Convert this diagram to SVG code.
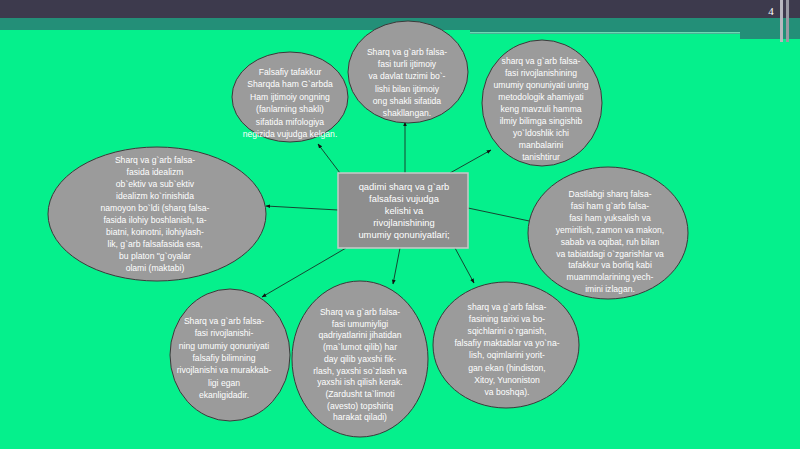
<svg xmlns="http://www.w3.org/2000/svg" width="800" height="449" viewBox="0 0 800 449">
<defs>
<style>
.node ellipse{fill:#9b9b9b;stroke:#3a3a3a;stroke-width:1}
.t{font-family:"Liberation Sans",Arial,sans-serif;font-size:8.6px;fill:#ffffff;text-anchor:middle}
.c{font-family:"Liberation Sans",Arial,sans-serif;font-size:9.4px;fill:#ffffff;text-anchor:middle}
.conn line{stroke:#1a1a1a;stroke-width:0.8;marker-end:url(#ah)}
</style>
<marker id="ah" viewBox="0 0 10 10" refX="9" refY="5" markerWidth="6" markerHeight="6" orient="auto"><path d="M0,1 L10,5 L0,9 Z" fill="#111"/></marker>
</defs>
<rect x="0" y="0" width="800" height="449" fill="#05f08c"/>
<rect x="0" y="0" width="800" height="30" fill="#238f78"/>
<rect x="470" y="29" width="330" height="5" fill="#238f78"/>
<rect x="470" y="32" width="270" height="1.5" fill="#6fd8b4"/>
<rect x="740" y="29" width="60" height="10" fill="#238f78"/>
<rect x="0" y="0" width="800" height="18" fill="#3d3a4d"/>
<rect x="780" y="0" width="3" height="42" fill="#b8b8c0"/>
<rect x="786" y="0" width="3" height="42" fill="#9a9aa4"/>
<text x="771" y="15" font-family="Liberation Serif,serif" font-size="11" fill="#ffffff" text-anchor="middle">4</text>

<g class="conn">
<line x1="340" y1="173" x2="318" y2="144"/>
<line x1="405" y1="173" x2="405" y2="122"/>
<line x1="450" y1="173" x2="491" y2="150"/>
<line x1="338" y1="210" x2="266" y2="206"/>
<line x1="468" y1="208" x2="534" y2="222"/>
<line x1="346" y1="248" x2="262" y2="297"/>
<line x1="400" y1="248" x2="393" y2="284"/>
<line x1="455" y1="248" x2="474" y2="283"/>
</g>

<g id="n1" class="node"><ellipse cx="290" cy="97" rx="58" ry="45"/>
<text class="t" x="290" y="75"><tspan x="290">Falsafiy tafakkur</tspan><tspan x="290" dy="12.4">Sharqda ham G`arbda</tspan><tspan x="290" dy="12.4">Ham ijtimoiy ongning</tspan><tspan x="290" dy="12.4">(fanlarning shakli)</tspan><tspan x="290" dy="12.4">sifatida mifologiya</tspan><tspan x="290" dy="12.4">negizida vujudga kelgan.</tspan></text></g>

<g id="n2" class="node"><ellipse cx="408" cy="72" rx="60" ry="51"/>
<text class="t" x="407" y="55"><tspan x="407">Sharq va g`arb falsa-</tspan><tspan x="407" dy="12.2">fasi turli ijtimoiy</tspan><tspan x="407" dy="12.2">va davlat tuzimi bo`-</tspan><tspan x="407" dy="12.2">lishi bilan ijtimoiy</tspan><tspan x="407" dy="12.2">ong shakli sifatida</tspan><tspan x="407" dy="12.2">shakllangan.</tspan></text></g>

<g id="n3" class="node"><ellipse cx="542" cy="103" rx="60" ry="63"/>
<text class="t" x="541" y="64"><tspan x="541">sharq va g`arb falsa-</tspan><tspan x="541" dy="12">fasi rivojlanishining</tspan><tspan x="541" dy="12">umumiy qonuniyati uning</tspan><tspan x="541" dy="12">metodologik ahamiyati</tspan><tspan x="541" dy="12">keng mavzuli hamma</tspan><tspan x="541" dy="12">ilmiy bilimga singishib</tspan><tspan x="541" dy="12">yo`ldoshlik ichi</tspan><tspan x="541" dy="12">manbalarini</tspan><tspan x="541" dy="12">tanishtirur</tspan></text></g>

<g id="n4" class="node"><ellipse cx="157" cy="214" rx="109" ry="67"/>
<text class="t" x="155" y="163"><tspan x="155">Sharq va g`arb falsa-</tspan><tspan x="155" dy="12">fasida idealizm</tspan><tspan x="155" dy="12">ob`ektiv va sub`ektiv</tspan><tspan x="155" dy="12">idealizm ko`rinishida</tspan><tspan x="155" dy="12">namoyon bo`ldi (sharq falsa-</tspan><tspan x="155" dy="12">fasida ilohiy boshlanish, ta-</tspan><tspan x="155" dy="12">biatni, koinotni, ilohiylash-</tspan><tspan x="155" dy="12">lik, g`arb falsafasida esa,</tspan><tspan x="155" dy="12">bu platon "g`oyalar</tspan><tspan x="155" dy="12">olami (maktabi)</tspan></text></g>

<g id="n5" class="node"><ellipse cx="608" cy="233" rx="80" ry="66"/>
<text class="t" x="610" y="197"><tspan x="610">Dastlabgi sharq falsa-</tspan><tspan x="610" dy="11.9">fasi ham g`arb falsa-</tspan><tspan x="610" dy="11.9">fasi ham yuksalish va</tspan><tspan x="610" dy="11.9">yemirilish, zamon va makon,</tspan><tspan x="610" dy="11.9">sabab va oqibat, ruh bilan</tspan><tspan x="610" dy="11.9">va tabiatdagi o`zgarishlar va</tspan><tspan x="610" dy="11.9">tafakkur va borliq kabi</tspan><tspan x="610" dy="11.9">muammolarining yech-</tspan><tspan x="610" dy="11.9">imini izlagan.</tspan></text></g>

<g id="n6" class="node"><ellipse cx="230" cy="355" rx="60" ry="66"/>
<text class="t" x="224" y="324"><tspan x="224">Sharq va g`arb falsa-</tspan><tspan x="224" dy="12.3">fasi rivojlanishi-</tspan><tspan x="224" dy="12.3">ning umumiy qonuniyati</tspan><tspan x="224" dy="12.3">falsafiy bilimning</tspan><tspan x="224" dy="12.3">rivojlanishi va murakkab-</tspan><tspan x="224" dy="12.3">ligi egan</tspan><tspan x="224" dy="12.3">ekanligidadir.</tspan></text></g>

<g id="n7" class="node"><ellipse cx="360" cy="359" rx="68" ry="78"/>
<text class="t" x="360" y="315"><tspan x="360">Sharq va g`arb falsa-</tspan><tspan x="360" dy="11.7">fasi umumiyligi</tspan><tspan x="360" dy="11.7">qadriyatlarini jihatidan</tspan><tspan x="360" dy="11.7">(ma`lumot qilib) har</tspan><tspan x="360" dy="11.7">day qilib yaxshi fik-</tspan><tspan x="360" dy="11.7">rlash, yaxshi so`zlash va</tspan><tspan x="360" dy="11.7">yaxshi ish qilish kerak.</tspan><tspan x="360" dy="11.7">(Zardusht ta`limoti</tspan><tspan x="360" dy="11.7">(avesto) topshiriq</tspan><tspan x="360" dy="11.7">harakat qiladi)</tspan></text></g>

<g id="n8" class="node"><ellipse cx="506" cy="345" rx="73" ry="63"/>
<text class="t" x="507" y="310"><tspan x="507">sharq va g`arb falsa-</tspan><tspan x="507" dy="12.1">fasining tarixi va bo-</tspan><tspan x="507" dy="12.1">sqichlarini o`rganish,</tspan><tspan x="507" dy="12.1">falsafiy maktablar va yo`na-</tspan><tspan x="507" dy="12.1">lish, oqimlarini yorit-</tspan><tspan x="507" dy="12.1">gan ekan (hindiston,</tspan><tspan x="507" dy="12.1">Xitoy, Yunoniston</tspan><tspan x="507" dy="12.1">va boshqa).</tspan></text></g>

<g id="center" class="node"><rect x="338" y="173" width="130" height="75" fill="#8e8e8e" stroke="#c8c8c8" stroke-width="1.5"/>
<text class="c" x="404" y="190"><tspan x="404">qadimi sharq va g`arb</tspan><tspan x="404" dy="12">falsafasi vujudga</tspan><tspan x="404" dy="12">kelishi va</tspan><tspan x="404" dy="12">rivojlanishining</tspan><tspan x="404" dy="12">umumiy qonuniyatlari;</tspan></text></g>
</svg>
